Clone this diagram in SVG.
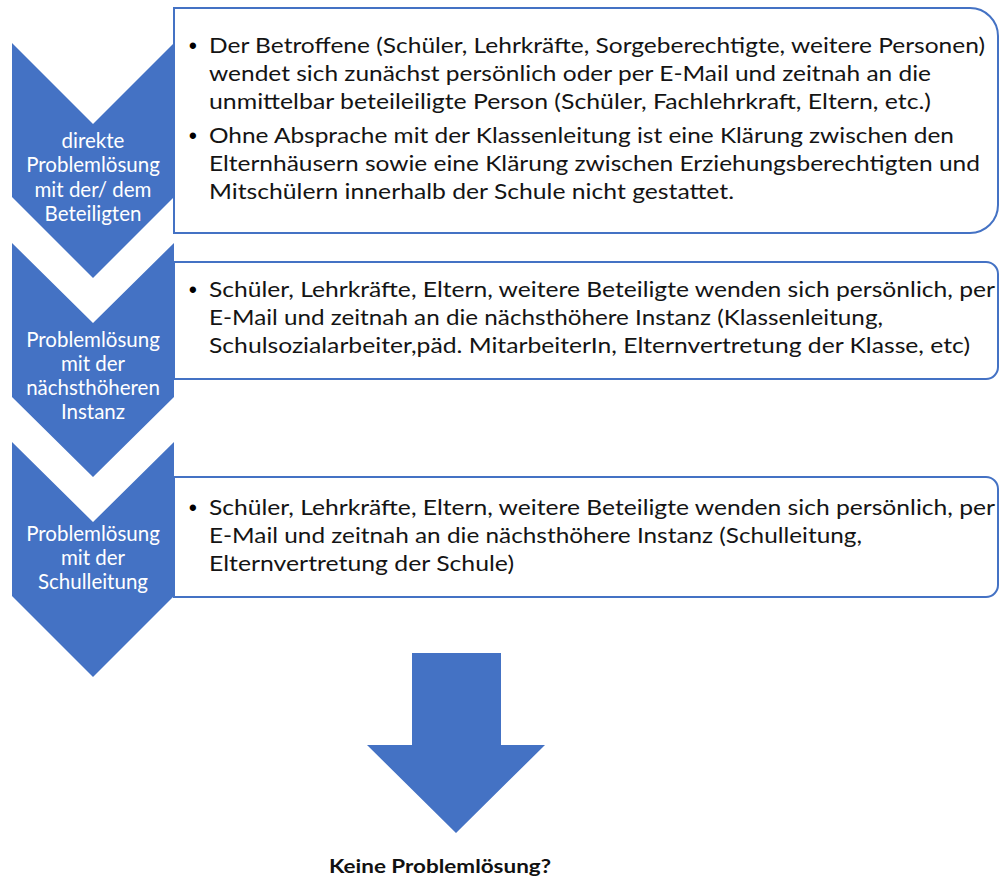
<svg xmlns="http://www.w3.org/2000/svg" width="1000" height="879" viewBox="0 0 1000 879">
<style>
.chev{fill:#4472C4;}
.box{fill:#ffffff;stroke:#4472C4;stroke-width:2;}
.lbl{font-family:Lato,"Liberation Sans",sans-serif;font-size:20.5px;fill:#ffffff;text-anchor:middle;}
.txt{font-family:Lato,"Liberation Sans",sans-serif;font-size:22px;fill:#141414;}
.bul{font-family:"Liberation Sans",sans-serif;font-size:22px;font-weight:bold;fill:#000;}
.foot{font-family:Lato,"Liberation Sans",sans-serif;font-size:19px;font-weight:bold;fill:#111;text-anchor:middle;}
</style>
<rect width="1000" height="879" fill="#ffffff"/>

<g id="step1">
<polygon class="chev" points="12,43 93,124 174,43 174,197 93,278 12,197"/>
<text class="lbl" x="93" y="148">direkte</text>
<text class="lbl" x="93" y="172">Problemlösung</text>
<text class="lbl" x="93" y="197">mit der/ dem</text>
<text class="lbl" x="93" y="221">Beteiligten</text>
</g>

<g id="step2">
<polygon class="chev" points="12,243 93,323 174,243 174,397 93,477 12,397"/>
<text class="lbl" x="93" y="347">Problemlösung</text>
<text class="lbl" x="93" y="371">mit der</text>
<text class="lbl" x="93" y="395">nächsthöheren</text>
<text class="lbl" x="93" y="419">Instanz</text>
</g>

<g id="step3">
<polygon class="chev" points="12,442 93,522 174,442 174,596 93,677 12,596"/>
<text class="lbl" x="93" y="541">Problemlösung</text>
<text class="lbl" x="93" y="565">mit der</text>
<text class="lbl" x="93" y="589">Schulleitung</text>
</g>

<g id="box1">
<path class="box" d="M174,8 H970 A28,28 0 0 1 998,36 V205 A28,28 0 0 1 970,233 H174 Z"/>
<text class="bul" x="189" y="53">•</text>
<text class="txt" x="209" y="53" textLength="776" lengthAdjust="spacingAndGlyphs">Der Betroffene (Schüler, Lehrkräfte, Sorgeberechtigte, weitere Personen)</text>
<text class="txt" x="209" y="81" textLength="722" lengthAdjust="spacingAndGlyphs">wendet sich zunächst persönlich oder per E-Mail und zeitnah an die</text>
<text class="txt" x="209" y="109" textLength="722" lengthAdjust="spacingAndGlyphs">unmittelbar beteileiligte Person (Schüler, Fachlehrkraft, Eltern, etc.)</text>
<text class="bul" x="189" y="143">•</text>
<text class="txt" x="209" y="143" textLength="745" lengthAdjust="spacingAndGlyphs">Ohne Absprache mit der Klassenleitung ist eine Klärung zwischen den</text>
<text class="txt" x="209" y="171" textLength="771" lengthAdjust="spacingAndGlyphs">Elternhäusern sowie eine Klärung zwischen Erziehungsberechtigten und</text>
<text class="txt" x="209" y="199" textLength="525" lengthAdjust="spacingAndGlyphs">Mitschülern innerhalb der Schule nicht gestattet.</text>
</g>

<g id="box2">
<path class="box" d="M174,262 H986 A12,12 0 0 1 998,274 V367 A12,12 0 0 1 986,379 H174 Z"/>
<text class="bul" x="189" y="297">•</text>
<text class="txt" x="209" y="297" textLength="786" lengthAdjust="spacingAndGlyphs">Schüler, Lehrkräfte, Eltern, weitere Beteiligte wenden sich persönlich, per</text>
<text class="txt" x="209" y="325" textLength="674" lengthAdjust="spacingAndGlyphs">E-Mail und zeitnah an die nächsthöhere Instanz (Klassenleitung,</text>
<text class="txt" x="209" y="353" textLength="761" lengthAdjust="spacingAndGlyphs">Schulsozialarbeiter,päd. MitarbeiterIn, Elternvertretung der Klasse, etc)</text>
</g>

<g id="box3">
<path class="box" d="M174,477 H986 A12,12 0 0 1 998,489 V585 A12,12 0 0 1 986,597 H174 Z"/>
<text class="bul" x="189" y="515">•</text>
<text class="txt" x="209" y="515" textLength="786" lengthAdjust="spacingAndGlyphs">Schüler, Lehrkräfte, Eltern, weitere Beteiligte wenden sich persönlich, per</text>
<text class="txt" x="209" y="543" textLength="653" lengthAdjust="spacingAndGlyphs">E-Mail und zeitnah an die nächsthöhere Instanz (Schulleitung,</text>
<text class="txt" x="209" y="571" textLength="305" lengthAdjust="spacingAndGlyphs">Elternvertretung der Schule)</text>
</g>

<g id="connectors">
<polygon class="chev" points="412,653 501,653 501,745 545,745 456,833 367,745 412,745"/>
</g>

<g id="result">
<text class="foot" x="440" y="873" textLength="222" lengthAdjust="spacingAndGlyphs">Keine Problemlösung?</text>
</g>
</svg>
